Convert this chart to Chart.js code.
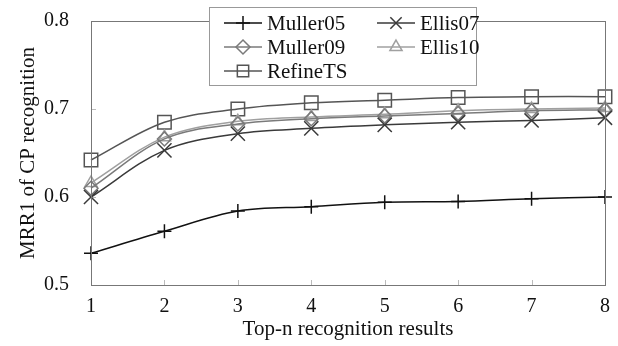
<!DOCTYPE html>
<html>
<head>
<meta charset="utf-8">
<script src="https://cdn.jsdelivr.net/npm/chart.js@4/dist/chart.umd.min.js"></script>
<style>
  html, body { margin: 0; padding: 0; background: #fff; }
  #wrap { width: 618px; height: 346px; position: relative; }
</style>
</head>
<body>
<div id="wrap"><canvas id="c" width="618" height="346"></canvas></div>
<script>
// data
const topN = ['1', '2', '3', '4', '5', '6', '7', '8'];
const muller05 = [0.536, 0.561, 0.584, 0.589, 0.594, 0.595, 0.598, 0.600];
const ellis07  = [0.600, 0.653, 0.672, 0.678, 0.682, 0.685, 0.687, 0.690];
const muller09 = [0.610, 0.666, 0.683, 0.689, 0.692, 0.695, 0.698, 0.699];
const ellis10  = [0.616, 0.668, 0.686, 0.691, 0.694, 0.698, 0.700, 0.701];
const refineTS = [0.642, 0.685, 0.700, 0.707, 0.710, 0.713, 0.714, 0.714];
const yTicks = [0.5, 0.6, 0.7, 0.8];

const FONT = '"Liberation Serif", "DejaVu Serif", serif';

const series = [
  { label: 'Muller05', data: muller05, color: '#111111', point: 'cross', size: 7 },
  { label: 'Ellis07', data: ellis07, color: '#3a3a3a', point: 'crossRot', size: 10 },
  { label: 'Muller09', data: muller09, color: '#7a7a7a', point: 'rectRot', size: 7 },
  { label: 'Ellis10', data: ellis10, color: '#a0a0a0', point: 'triangle', size: 7 },
  { label: 'RefineTS', data: refineTS, color: '#555555', point: 'rect', size: 9.5 }
];

// frame, inner tick marks and legend drawn on the canvas
const framePlugin = {
  id: 'frame',
  beforeDatasetsDraw(chart) {
    const { ctx, chartArea: a, scales } = chart;
    ctx.save();
    ctx.strokeStyle = '#bbb';
    ctx.lineWidth = 1;
    ctx.beginPath();
    scales.x.ticks.forEach((t, i) => {
      const x = Math.round(scales.x.getPixelForTick(i)) + 0.5;
      ctx.moveTo(x, a.bottom);
      ctx.lineTo(x, a.bottom - 5);
    });
    yTicks.forEach(v => {
      const y = Math.round(scales.y.getPixelForValue(v)) + 0.5;
      ctx.moveTo(a.left, y);
      ctx.lineTo(a.left + 5, y);
    });
    ctx.stroke();
    ctx.restore();
  },
  afterDraw(chart) {
    const { ctx, chartArea: a } = chart;
    ctx.save();
    ctx.strokeStyle = '#777';
    ctx.lineWidth = 1;
    ctx.strokeRect(a.left + 0.5, a.top + 0.5, a.right - a.left, a.bottom - a.top);

    // legend
    const lx = 209, ly = 7, lw = 267, lh = 78;
    ctx.fillStyle = '#fff';
    ctx.fillRect(lx, ly, lw, lh);
    ctx.strokeStyle = '#999';
    ctx.strokeRect(lx + 0.5, ly + 0.5, lw, lh);
    ctx.textBaseline = 'middle';
    ctx.textAlign = 'left';
    series.forEach((s, i) => {
      const col = i % 2, row = Math.floor(i / 2);
      const x = lx + 15 + col * 153;
      const y = ly + 16 + row * 24;
      ctx.strokeStyle = s.color;
      ctx.fillStyle = 'rgba(255,255,255,0)';
      ctx.lineWidth = 1.5;
      ctx.beginPath();
      ctx.moveTo(x, y);
      ctx.lineTo(x + 38, y);
      ctx.stroke();
      Chart.helpers.drawPoint(ctx, {
        pointStyle: s.point, radius: Math.min(s.size, 8), borderWidth: 1.5
      }, x + 19, y);
      ctx.font = '21px ' + FONT;
      ctx.fillStyle = '#111';
      ctx.fillText(s.label, x + 43, y + 1);
    });
    ctx.restore();
  }
};

new Chart(document.getElementById('c'), {
  type: 'line',
  data: {
    labels: topN,
    datasets: series.map(s => ({
      label: s.label,
      data: s.data,
      borderColor: s.color,
      backgroundColor: 'rgba(255,255,255,0)',
      borderWidth: 1.5,
      tension: 0.35,
      pointStyle: s.point,
      pointRadius: s.size,
      pointBorderWidth: 1.5,
      pointBorderColor: s.color,
      pointBackgroundColor: 'rgba(255,255,255,0)',
      fill: false
    }))
  },
  options: {
    responsive: false,
    animation: false,
    layout: { padding: { left: 16, right: 13, top: 21, bottom: 0 } },
    plugins: { legend: { display: false }, tooltip: { enabled: false } },
    scales: {
      x: {
        type: 'category',
        offset: false,
        grid: { display: false },
        border: { display: false },
        ticks: { color: '#111', font: { family: 'Liberation Serif', size: 20 }, padding: 2, maxRotation: 0 },
        title: { display: true, text: 'Top-n recognition results', color: '#111', font: { family: 'Liberation Serif', size: 21 }, padding: { top: 7 } },
        afterFit(s) { s.height = 61; s.paddingLeft = 0; s.paddingRight = 0; }
      },
      y: {
        min: 0.5,
        max: 0.8,
        afterBuildTicks(s) { s.ticks = yTicks.map(v => ({ value: v })); },
        grid: { display: false },
        border: { display: false },
        ticks: { color: '#111', font: { family: 'Liberation Serif', size: 20 }, padding: 14, callback: v => v.toFixed(1) },
        title: { display: true, text: 'MRR1 of CP recognition', color: '#111', font: { family: 'Liberation Serif', size: 21 }, padding: { top: 0, bottom: 0 } },
        afterFit(s) { s.width = 75; s.paddingTop = 0; s.paddingBottom = 0; }
      }
    }
  },
  plugins: [framePlugin]
});
</script>
</body>
</html>
